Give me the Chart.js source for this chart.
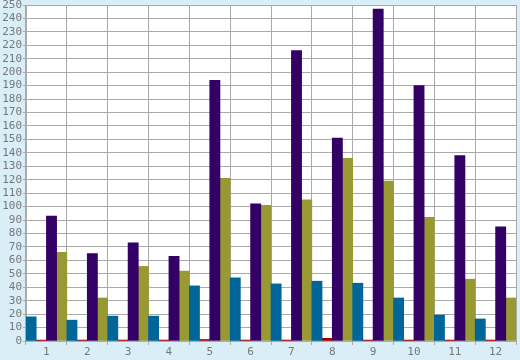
<!DOCTYPE html>
<html>
<head>
<meta charset="utf-8">
<script src="https://cdn.jsdelivr.net/npm/chart.js@4/dist/chart.umd.min.js"></script>
<style>
html, body { margin: 0; padding: 0; background: #d9eef6; }
#wrap { width: 520px; height: 360px; }
</style>
</head>
<body>
<div id="wrap"><canvas id="chart" width="520" height="360"></canvas></div>
<script>
var categories = ["1", "2", "3", "4", "5", "6", "7", "8", "9", "10", "11", "12"];
var blueValues = [18, 15.5, 18.5, 18.5, 41, 47, 42.5, 44.5, 43, 32, 19.3, 16.4];
var redValues = [0.7, 0.7, 0.7, 0.7, 1.1, 0.7, 0.7, 2, 0.7, 0.7, 0.7, 0.7];
var purpleValues = [93, 65, 73, 63, 194, 102, 216, 151, 247, 190, 138, 85];
var oliveValues = [66, 32, 55.5, 52, 121, 101, 105, 136, 119, 92, 46, 32];
var yMax = 250;
var yStep = 10;

var bgPlugin = {
	id: 'bg',
	beforeDraw: function(chart) {
		var ctx = chart.ctx;
		var a = chart.chartArea;
		ctx.save();
		ctx.fillStyle = '#d9eef6';
		ctx.fillRect(0, 0, chart.width, chart.height);
		ctx.fillStyle = '#ffffff';
		ctx.fillRect(a.left, a.top, a.right - a.left, a.bottom - a.top);
		ctx.restore();
	}
};

function draw() {
	var ctx = document.getElementById('chart').getContext('2d');
	new Chart(ctx, {
		type: 'bar',
		data: {
			labels: categories,
			datasets: [
				{ label: "blue", backgroundColor: '#006699', data: blueValues },
				{ label: "red", backgroundColor: '#990000', data: redValues },
				{ label: "purple", backgroundColor: '#330066', data: purpleValues },
				{ label: "olive", backgroundColor: '#999933', data: oliveValues }
			]
		},
		options: {
			responsive: false,
			animation: false,
			layout: { padding: { top: 5, right: 4, left: 0, bottom: 0 } },
			datasets: { bar: { categoryPercentage: 1, barPercentage: 1, borderWidth: 0 } },
			plugins: { legend: { display: false }, tooltip: { enabled: false } },
			scales: {
				x: {
					grid: { color: '#aaaaaa', lineWidth: 1, tickLength: 4, drawOnChartArea: true },
					border: { color: '#aaaaaa' },
					ticks: { color: '#777777', font: { family: 'DejaVu Sans Mono', size: 11 }, padding: 1, maxRotation: 0 },
					afterFit: function(s) { s.height = 19; s.paddingLeft = 0; s.paddingRight = 0; }
				},
				y: {
					min: 0,
					max: yMax,
					grid: { color: '#aaaaaa', lineWidth: 1, tickLength: 3 },
					border: { color: '#aaaaaa' },
					ticks: { stepSize: yStep, autoSkip: false, color: '#777777', font: { family: 'DejaVu Sans Mono', size: 11 }, padding: 1 },
					afterFit: function(s) { s.width = 26; s.paddingTop = 0; s.paddingBottom = 0; }
				}
			}
		},
		plugins: [bgPlugin]
	});
}
draw();
</script>
</body>
</html>
